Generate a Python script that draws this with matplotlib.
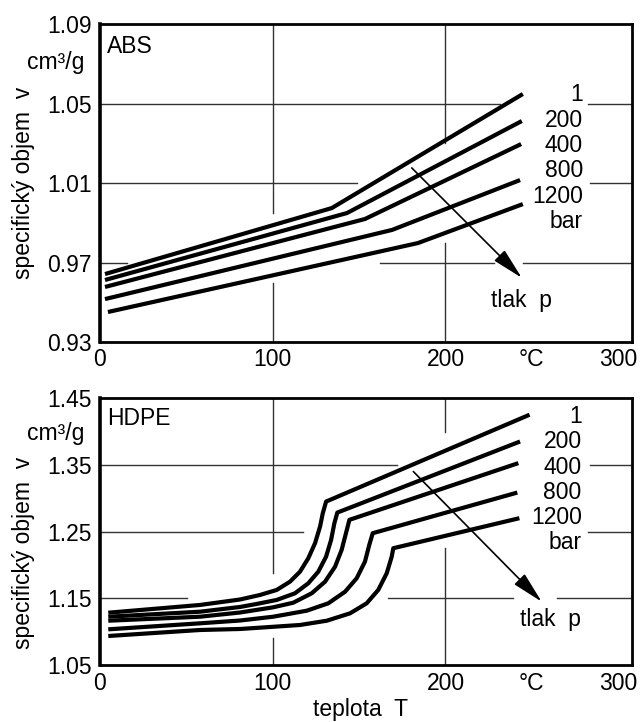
import matplotlib.pyplot as plt

plt.rcParams['font.family'] = ['Liberation Sans', 'DejaVu Sans']

pressures = ['1', '200', '400', '800', '1200', 'bar']

# ABS - teplota T [°C] a specificky objem v [cm3/g], jedna krivka na tlak
abs_t = [
    [2.9, 134.2, 244.8],
    [2.9, 143.0, 244.2],
    [2.9, 153.4, 243.8],
    [2.9, 169.1, 243.2],
    [4.6, 184.1, 244.8],
]
abs_v = [
    [0.9642, 0.9974, 1.0548],
    [0.9612, 0.9949, 1.0412],
    [0.9577, 0.9919, 1.0296],
    [0.9516, 0.9864, 1.0115],
    [0.9451, 0.9798, 0.9994],
]

# HDPE
hdpe_t = [
    [4.8, 57.9, 81.1, 92.7, 102.3, 110.0, 115.8, 120.6, 124.5, 127.4, 129.0, 130.9, 248.7],
    [4.8, 57.9, 81.1, 90.7, 102.3, 112.9, 120.6, 126.4, 130.9, 133.8, 135.7, 137.4, 243.2],
    [4.8, 57.9, 81.1, 100.3, 111.9, 122.6, 130.3, 136.1, 139.9, 142.4, 144.4, 242.2],
    [4.8, 57.9, 81.1, 100.3, 119.7, 132.2, 141.9, 148.6, 153.4, 155.9, 157.9, 241.6],
    [4.8, 57.9, 81.1, 115.8, 131.3, 144.8, 154.4, 161.1, 166.0, 168.9, 169.8, 242.8],
]
hdpe_v = [
    [1.1284, 1.1400, 1.1482, 1.1550, 1.1625, 1.1749, 1.1899, 1.2100, 1.2325, 1.2574, 1.2775, 1.2949, 1.4250],
    [1.1224, 1.1299, 1.1370, 1.1415, 1.1475, 1.1575, 1.1725, 1.1899, 1.2124, 1.2375, 1.2625, 1.2784, 1.3849],
    [1.1164, 1.1224, 1.1287, 1.1365, 1.1434, 1.1575, 1.1749, 1.1974, 1.2225, 1.2475, 1.2675, 1.3525],
    [1.1035, 1.1125, 1.1167, 1.1224, 1.1314, 1.1425, 1.1599, 1.1800, 1.2049, 1.2300, 1.2475, 1.3084],
    [1.0935, 1.1025, 1.1040, 1.1100, 1.1164, 1.1275, 1.1425, 1.1625, 1.1875, 1.2124, 1.2250, 1.2700],
]

abs_yticks = [0.93, 0.97, 1.01, 1.05, 1.09]
hdpe_yticks = [1.05, 1.15, 1.25, 1.35, 1.45]
xticks = [0, 100, 200, 250, 300]
xticklabels = ['0', '100', '200', '°C', '300']

FS = 16.5
XMAX = 308


def draw_panel(ax, t, v, yticks, name, hgrid, vgrid, label_pos, arrow, tlak_pos, ylab_y, xpad):
    # prerusovana mrizka jako v puvodnim obrazku
    for y, segs in hgrid:
        for x0, x1 in segs:
            ax.plot([x0, x1], [y, y], color='#333333', lw=1.0, zorder=1)
    for x, segs in vgrid:
        for y0, y1 in segs:
            ax.plot([x, x], [y0, y1], color='#333333', lw=1.0, zorder=1)

    for tt, vv in zip(t, v):
        ax.plot(tt, vv, color='black', lw=3.0, solid_capstyle='butt',
                solid_joinstyle='round', zorder=3)

    ax.set_xlim(0, XMAX)
    ax.set_ylim(yticks[0], yticks[-1])
    ax.set_xticks(xticks)
    ax.set_xticklabels(xticklabels)
    ax.set_yticks(yticks)
    ax.set_yticklabels(['%.2f' % y for y in yticks])
    ax.tick_params(axis='both', length=0, labelsize=FS)
    ax.tick_params(axis='x', pad=xpad)
    ax.tick_params(axis='y', pad=6)
    for s in ax.spines.values():
        s.set_linewidth(2.0)
    ax.spines['left'].set_linewidth(2.6)

    ax.text(0.013, 0.965, name, transform=ax.transAxes, fontsize=FS, ha='left', va='top')
    ax.text(-0.03, ylab_y[0], 'cm³/g', transform=ax.transAxes, fontsize=FS, ha='right', va='center')
    ax.set_ylabel('specifický objem  v', fontsize=FS)
    ax.yaxis.set_label_coords(-0.122, ylab_y[1])

    lx, ly = label_pos
    for i, lab in enumerate(pressures):
        ax.annotate(lab, xy=(lx, ly), xytext=(0, -i * 18.2), textcoords='offset points',
                    fontsize=FS, ha='right', va='center')

    ax.annotate('', xy=arrow[1], xytext=arrow[0],
                arrowprops=dict(arrowstyle='-|>,head_length=1.3,head_width=0.3',
                                color='black', lw=1.2, mutation_scale=15, shrinkA=0, shrinkB=0))
    ax.text(tlak_pos[0], tlak_pos[1], 'tlak  p', fontsize=FS, ha='center', va='center')


fig = plt.figure(figsize=(6.43, 7.22), dpi=100)
ax1 = fig.add_axes([0.1555, 0.5263, 0.8274, 0.4404])
ax2 = fig.add_axes([0.1555, 0.0789, 0.8274, 0.3698])

draw_panel(
    ax1, abs_t, abs_v, abs_yticks, 'ABS',
    hgrid=[(1.05, [(0, 231.6), (282.6, XMAX)]),
           (1.01, [(0, 148.8), (283.7, XMAX)]),
           (0.97, [(0, 15.6), (162.1, 228), (245, XMAX)])],
    vgrid=[(100, [(0.93, 0.9597), (0.9949, 1.09)]),
           (200, [(0.93, 0.9798), (1.0301, 1.09)])],
    label_pos=(279.7, 1.0543),
    arrow=((180.5, 1.0176), (244.2, 0.9623)),
    tlak_pos=(243.8, 0.9511),
    ylab_y=(0.88, 0.5),
    xpad=4,
)

draw_panel(
    ax2, hdpe_t, hdpe_v, hdpe_yticks, 'HDPE',
    hgrid=[(1.35, [(0, 172), (283.7, XMAX)]),
           (1.25, [(0, 117.5), (282.6, XMAX)]),
           (1.15, [(0, 50.4), (166.8, 239.1), (264.6, XMAX)])],
    vgrid=[(100, [(1.05, 1.0905), (1.188, 1.45)]),
           (200, [(1.05, 1.2255), (1.3995, 1.45)])],
    label_pos=(278.9, 1.4224),
    arrow=((181.4, 1.3399), (255.7, 1.1449)),
    tlak_pos=(260.6, 1.1175),
    ylab_y=(0.867, 0.42),
    xpad=5,
)
ax2.set_xlabel('teplota  T', fontsize=FS)
ax2.xaxis.set_label_coords(0.49, -0.122)

fig.savefig('out.png', dpi=100)
